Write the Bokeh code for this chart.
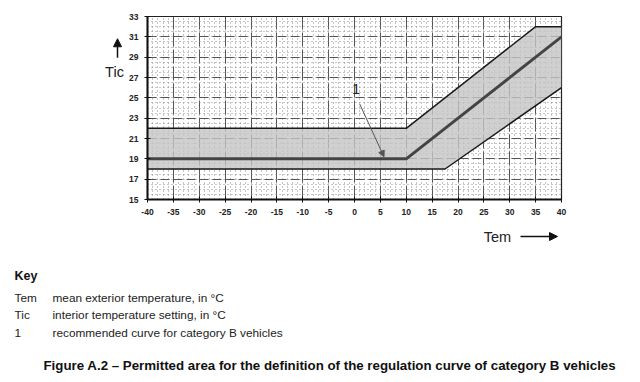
from bokeh.plotting import figure
from bokeh.models import Arrow, NormalHead, FixedTicker, Range1d
from bokeh.layouts import column, row
from bokeh.core.properties import value
from bokeh.embed import file_html
from bokeh.resources import INLINE

# ---- data ----
upper_x = [-40, 10, 35, 40]
upper_y = [22, 22, 32, 32]
rec_x = [-40, 10, 40]
rec_y = [19, 19, 31]
lower_x = [-40, 17.5, 40]
lower_y = [18, 18, 26]

x_ticks = list(range(-40, 41, 5))
y_ticks = list(range(15, 34, 2))
x_minor = list(range(-40, 41, 1))
y_minor = [15 + 0.5 * i for i in range(37)]

key_terms = ["Tem", "Tic", "1"]
key_texts = ["mean exterior temperature, in °C",
             "interior temperature setting, in °C",
             "recommended curve for category B vehicles"]
caption = "Figure A.2 \u2013 Permitted area for the definition of the regulation curve of category B vehicles"

FONT = "Liberation Sans"
W, H = 636, 380
TOP_H = 222
LEFT_W = 125


def blank(width, height):
    f = figure(width=width, height=height, output_backend="svg", toolbar_location=None,
               x_range=Range1d(0, width), y_range=Range1d(height, 0),
               x_axis_type=None, y_axis_type=None, min_border=0)
    f.outline_line_color = None
    f.background_fill_color = "white"
    f.border_fill_color = "white"
    return f


# ---- left strip: "Tic" with up arrow ----
left = blank(LEFT_W, TOP_H)
left.text(x=[114], y=[67], text=["Tic"], text_font=value(FONT), text_font_size="14.5px",
          text_align="center", text_baseline="middle", text_color="#222222")
left.add_layout(Arrow(x_start=117, y_start=50, x_end=117, y_end=27,
                      line_color="#111111", line_width=1.5,
                      end=NormalHead(size=8, fill_color="#111111", line_color="#111111")))

# ---- main chart ----
p = figure(width=W - LEFT_W, height=TOP_H, output_backend="svg", toolbar_location=None,
           x_range=Range1d(-40, 40), y_range=Range1d(15, 33),
           min_border_left=22, min_border_top=16, min_border_right=W - LEFT_W - 22 - 414,
           min_border_bottom=TOP_H - 16 - 183)
p.background_fill_color = "white"
p.border_fill_color = "white"
p.outline_line_color = "#222222"
p.outline_line_width = 1.2

xt = FixedTicker(ticks=x_ticks, minor_ticks=x_minor)
yt = FixedTicker(ticks=y_ticks, minor_ticks=y_minor)
p.xaxis.ticker = xt
p.yaxis.ticker = yt
p.xgrid.ticker = xt
p.ygrid.ticker = yt
for g in (p.xgrid, p.ygrid):
    g.minor_grid_line_color = "#8a8a8a"
    g.minor_grid_line_dash = "1 3"
    g.minor_grid_line_width = 1
    g.grid_line_color = "#555555"
    g.grid_line_width = 1
p.xgrid.grid_line_dash = "14 3"
p.ygrid.grid_line_dash = "9 4"

poly_x = upper_x + lower_x[::-1]
poly_y = upper_y + lower_y[::-1]
p.patch(poly_x, poly_y, fill_color="#c4c4c4", fill_alpha=0.8, line_color=None)
p.line(upper_x, upper_y, line_color="#1a1a1a", line_width=1.5)
p.line(lower_x, lower_y, line_color="#1a1a1a", line_width=1.5)
p.line(rec_x, rec_y, line_color="#444444", line_width=3)

for ax in (p.xaxis, p.yaxis):
    ax.axis_line_color = "#111111"
    ax.axis_line_width = 2
    ax.major_tick_line_color = "#111111"
    ax.major_tick_in = 3
    ax.major_tick_out = 3
    ax.minor_tick_line_color = None
    ax.major_label_text_font = FONT
    ax.major_label_text_font_size = "8.5px"
    ax.major_label_text_font_style = "bold"
    ax.major_label_text_color = "#222222"
    ax.major_label_standoff = 5
p.xaxis.major_label_overrides = {t: str(t) for t in x_ticks}
p.yaxis.major_label_overrides = {t: str(t) for t in y_ticks}

p.text(x=[0.3], y=[25.9], text=["1"], text_font=value(FONT), text_font_size="14px",
       text_align="center", text_baseline="middle", text_color="#222222")
p.add_layout(Arrow(x_start=1.0, y_start=24.4, x_end=5.7, y_end=19.2,
                   line_color="#555555", line_width=1,
                   end=NormalHead(size=6, fill_color="#555555", line_color="#555555")))

# ---- bottom block: "Tem" arrow, key and caption ----
bot = blank(W, H - TOP_H)
oy = TOP_H
bot.text(x=[497], y=[236 - oy], text=["Tem"], text_font=value(FONT), text_font_size="14.5px",
         text_align="center", text_baseline="middle", text_color="#222222")
bot.add_layout(Arrow(x_start=520, y_start=236 - oy, x_end=557, y_end=236 - oy,
                     line_color="#111111", line_width=1.5,
                     end=NormalHead(size=8, fill_color="#111111", line_color="#111111")))

bot.text(x=[14], y=[275 - oy], text=["Key"], text_font=value(FONT), text_font_size="12.5px",
         text_font_style="bold", text_baseline="middle", text_color="#111111")
row_y = [297 - oy + 17.7 * i for i in range(len(key_terms))]
bot.text(x=[14] * len(key_terms), y=row_y, text=key_terms, text_font=value(FONT),
         text_font_size="11.8px", text_baseline="middle", text_color="#222222")
bot.text(x=[52] * len(key_texts), y=row_y, text=key_texts, text_font=value(FONT),
         text_font_size="11.8px", text_baseline="middle", text_color="#222222")
bot.text(x=[43], y=[365 - oy], text=[caption], text_font=value(FONT), text_font_size="13.3px",
         text_font_style="bold", text_baseline="middle", text_color="#111111")

layout = column(row(left, p, spacing=0), bot, spacing=0)
open("out.html", "w").write(file_html(layout, INLINE))
